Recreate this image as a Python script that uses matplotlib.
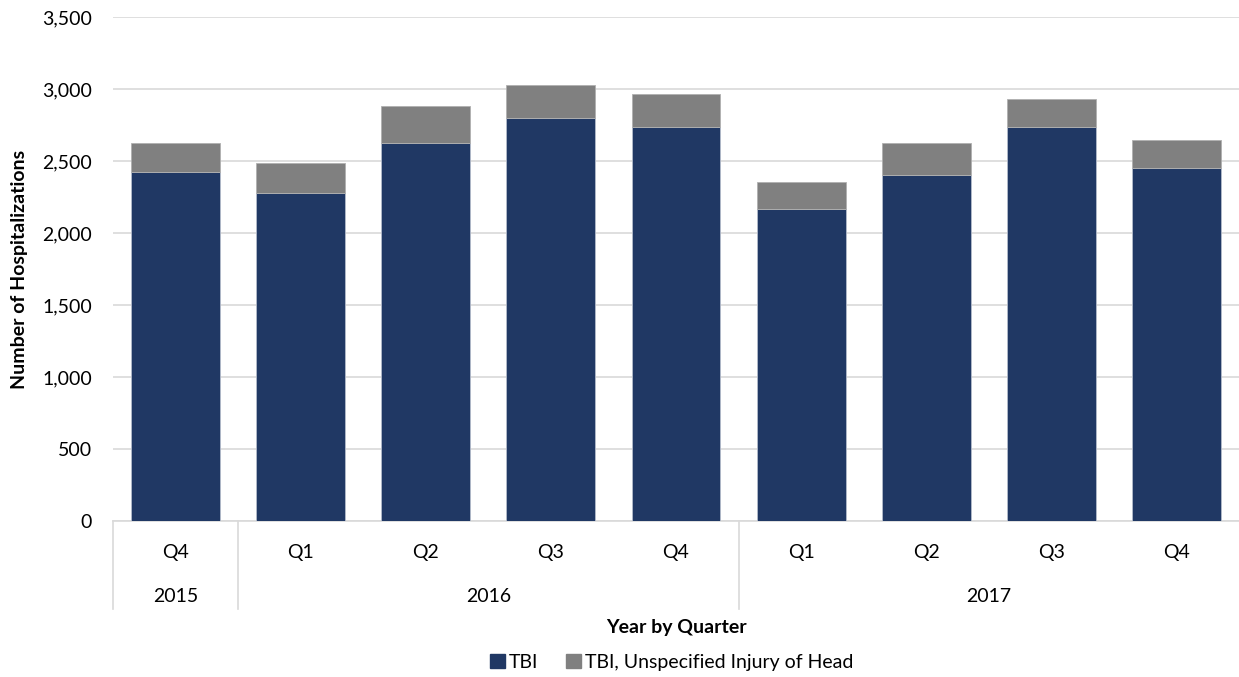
import matplotlib
matplotlib.use("Agg")
import matplotlib.pyplot as plt
from matplotlib.patches import Patch
import numpy as np

plt.rcParams['font.family'] = ['Lato', 'DejaVu Sans']

# quarterly hospitalizations
quarters = ['Q4', 'Q1', 'Q2', 'Q3', 'Q4', 'Q1', 'Q2', 'Q3', 'Q4']
years = ['2015', '2016', '2017']
year_spans = [(0, 1), (1, 5), (5, 9)]  # start, end index of each year
tbi = [2420, 2278, 2625, 2800, 2737, 2167, 2403, 2737, 2452]
tbi_unspec = [208, 206, 256, 227, 225, 190, 225, 193, 192]

navy = '#203864'
grey = '#808080'
fs = 14

fig = plt.figure(figsize=(12.39, 6.77), dpi=100)
ax = fig.add_axes([0.0912, 0.2304, 0.9088, 0.7446])

x = np.arange(len(quarters))
ax.bar(x, tbi, width=0.71, color=navy, edgecolor='#b4bccb', linewidth=0.6, zorder=3)
ax.bar(x, tbi_unspec, width=0.71, bottom=tbi, color=grey, edgecolor='#b0b0b0',
       linewidth=0.6, zorder=3)

ax.set_xlim(-0.5, len(quarters) - 0.5)
ax.set_ylim(0, 3500)
ax.set_yticks(np.arange(0, 3501, 500))
ax.set_yticklabels([f'{v:,}' for v in range(0, 3501, 500)], fontsize=fs)
ax.yaxis.grid(True, color='#d9d9d9', linewidth=1.2, zorder=0)
ax.tick_params(axis='y', length=0, pad=15)
ax.set_xticks([])
for s in ['top', 'right', 'left']:
    ax.spines[s].set_visible(False)
ax.spines['bottom'].set_color('#d9d9d9')
ax.spines['bottom'].set_linewidth(1.2)

ax.set_ylabel('Number of Hospitalizations', fontsize=fs, fontweight='bold', labelpad=10)

# two-level category axis
tr = ax.get_xaxis_transform()
for i, q in enumerate(quarters):
    ax.text(i, -0.062, q, transform=tr, ha='center', va='center', fontsize=fs)
for name, (a, b) in zip(years, year_spans):
    ax.text((a + b - 1) / 2, -0.149, name, transform=tr, ha='center', va='center',
            fontsize=fs)
for edge in [0, 1, 5]:
    ax.plot([edge - 0.5, edge - 0.5], [0, -0.175], transform=tr, color='#d9d9d9',
            linewidth=1.2, clip_on=False)

ax.text(0.5, -0.212, 'Year by Quarter', transform=ax.transAxes, ha='center',
        va='center', fontsize=fs, fontweight='bold')

handles = [Patch(color=navy, label='TBI'),
           Patch(color=grey, label='TBI, Unspecified Injury of Head')]
fig.legend(handles=handles, loc='center', bbox_to_anchor=(0.542, 0.022), ncol=2,
           frameon=False, fontsize=fs, handlelength=0.8, handleheight=0.8,
           handletextpad=0.2, columnspacing=1.4)

fig.savefig('out.png', dpi=100)
